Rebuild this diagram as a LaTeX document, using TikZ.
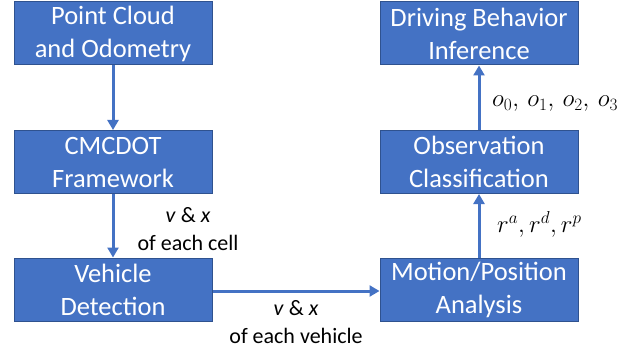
\documentclass[tikz,border=0pt]{standalone}
\usepackage{fontspec}
\setmainfont{Carlito}
\usetikzlibrary{arrows.meta}
\definecolor{boxfill}{HTML}{4472C4}
\definecolor{boxline}{HTML}{2F528F}
\begin{document}
\begin{tikzpicture}[x=1pt,y=-1pt,
  blk/.style={draw=boxline, line width=1pt, fill=boxfill, text=white, minimum width=198pt, minimum height=63pt, inner sep=0pt, align=center, font=\fontsize{26.5}{33}\selectfont},
  conn/.style={draw=boxfill, line width=3pt, -{Triangle[length=10pt,width=11pt]}},
  lab/.style={align=center, font=\fontsize{22}{28}\selectfont, inner sep=0pt}]
\useasboundingbox (0,0) rectangle (634,350);
\node[blk] (pc) at (113,33.5) {Point Cloud\\and Odometry};
\node[blk] (cm) at (113,162) {CMCDOT\\Framework};
\node[blk] (vd) at (113,289.5) {Vehicle\\Detection};
\node[blk] (db) at (479,33.5) {Driving Behavior\\Inference};
\node[blk] (oc) at (479,162) {Observation\\Classification};
\node[blk] (mp) at (479,289.5) {Motion/Position\\Analysis};
\draw[conn] (pc) -- (cm);
\draw[conn] (cm) -- (vd);
\draw[conn] (vd.east |- 0,291) -- (mp.west |- 0,291);
\draw[conn] (mp) -- (oc);
\draw[conn] (oc) -- (db);
\node[lab] (l1) at (188,229) {\textit{v} \& \textit{x}\\of each cell};
\node[lab] (l2) at (296,322) {\textit{v} \& \textit{x}\\of each vehicle};
\node[lab, anchor=west] (l3) at (492,104) {\fontsize{23}{26}\selectfont$o_0,\, o_1,\, o_2,\, o_3$};
\node[lab, anchor=west] (l4) at (497,224) {\fontsize{23}{26}\selectfont$r^a, r^d, r^p$};
\end{tikzpicture}
\end{document}
